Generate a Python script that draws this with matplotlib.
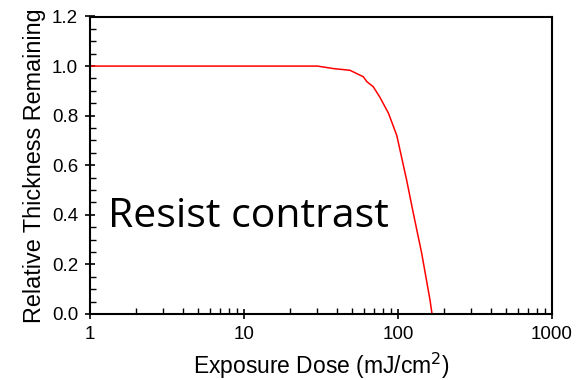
import matplotlib
matplotlib.use('Agg')
import matplotlib.pyplot as plt
from matplotlib.ticker import LogLocator, MultipleLocator, FixedFormatter, FixedLocator

plt.rcParams['font.family'] = ['Liberation Sans', 'DejaVu Sans']

# exposure dose (mJ/cm^2) vs normalised remaining resist thickness
dose = [1, 10, 20, 30, 38, 48.8, 59.5, 62.8, 69, 76, 86.7, 98.2, 113.8,
        125.7, 142.5, 161.4, 166.3]
thickness = [1.0, 1.0, 1.0, 1.0, 0.99, 0.983, 0.957, 0.937, 0.917, 0.876,
             0.81, 0.72, 0.54, 0.407, 0.245, 0.056, 0.0]

x_ticks = [1, 10, 100, 1000]
x_labels = ['1', '10', '100', '1000']

fig = plt.figure(figsize=(5.79, 3.80), dpi=100)
ax = fig.add_axes([90 / 579, 1 - 314 / 380, 462 / 579, 297.5 / 380])

ax.plot(dose, thickness, color='red', lw=1.1)

ax.set_xscale('log')
ax.set_xlim(1, 1000)
ax.set_ylim(0, 1.2)
ax.xaxis.set_major_locator(FixedLocator(x_ticks))
ax.xaxis.set_major_formatter(FixedFormatter(x_labels))
ax.xaxis.set_minor_locator(LogLocator(base=10, subs=range(2, 10)))
ax.xaxis.set_minor_formatter(FixedFormatter([]))
ax.yaxis.set_major_locator(MultipleLocator(0.2))
ax.yaxis.set_minor_locator(MultipleLocator(0.05))
ax.yaxis.set_major_formatter(plt.FuncFormatter(lambda v, p: f'{v:.1f}'))

ax.tick_params(which='major', direction='inout', length=7, width=1.2,
               labelsize=13.5, pad=5)
ax.tick_params(which='minor', direction='in', length=4, width=1)
for s in ax.spines.values():
    s.set_linewidth(1.5)

ax.set_xlabel('Exposure Dose (mJ/cm$^2$)', fontsize=16.5, labelpad=6)
ax.set_ylabel('Relative Thickness Remaining', fontsize=16.8, labelpad=4)

ax.text(1.31, 0.351, 'Resist contrast', fontsize=29.5, family='Open Sans',
        va='baseline', ha='left')

fig.savefig('out.png', dpi=100)
